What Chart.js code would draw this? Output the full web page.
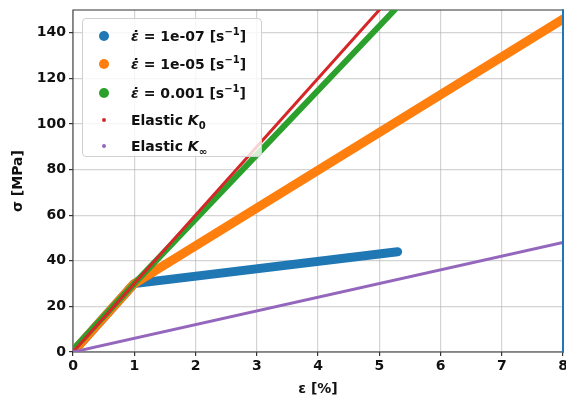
<!DOCTYPE html>
<html>
<head>
<meta charset="utf-8">
<script src="https://cdn.jsdelivr.net/npm/chart.js@4.4.1/dist/chart.umd.min.js"></script>
<style>
  html, body { margin: 0; padding: 0; background: #fff; }
  #wrap { position: relative; width: 566px; height: 398px; }
  #legend {
    position: absolute; left: 82px; top: 18px; width: 180px; height: 139px;
    box-sizing: border-box; border: 1px solid #d0d0d0; border-radius: 4px;
    background: rgba(255,255,255,0.8);
    font-family: "DejaVu Sans", sans-serif; font-weight: bold; font-size: 14px; color: #111;
  }
  .row { position: absolute; left: 0; height: 20px; line-height: 20px; white-space: nowrap; }
  .dot { position: absolute; border-radius: 50%; }
  .lbl { position: absolute; left: 48px; top: 0; }
  sup, sub { font-size: 10px; line-height: 0; }
</style>
</head>
<body>
<div id="wrap">
  <canvas id="chart" width="566" height="398"></canvas>
  <div id="legend"></div>
</div>
<script>
// deformacion (%) y tension (MPa) de cada curva
let strainSlow = [0, 1, 5.3];
let stressSlow = [0, 30, 44];
let strainMid = [0, 1, 8];
let stressMid = [0, 30, 146];
let strainFast = [0, 1, 5.25];
let stressFast = [1, 30, 150];
let strainK0 = [0, 5];
let stressK0 = [0, 150];
let strainKinf = [0, 8];
let stressKinf = [0, 48];
let strainEdge = [8, 8];
let stressEdge = [0, 150];

let xTicks = [0, 1, 2, 3, 4, 5, 6, 7, 8];
let yTicks = [0, 20, 40, 60, 80, 100, 120, 140];

let nombres = [
  '<i>ε̇</i> = 1e-07 [s<sup>−1</sup>]',
  '<i>ε̇</i> = 1e-05 [s<sup>−1</sup>]',
  '<i>ε̇</i> = 0.001 [s<sup>−1</sup>]',
  'Elastic <i>K</i><sub>0</sub>',
  'Elastic <i>K</i><sub>∞</sub>'
];
let colores = ['#1f77b4', '#ff7f0e', '#2ca02c', '#d62728', '#9467bd'];

let pares = (xs, ys) => xs.map((x, i) => ({x: x, y: ys[i]}));

let linea = (xs, ys, color, ancho, orden) => ({
  data: pares(xs, ys),
  showLine: true,
  borderColor: color,
  backgroundColor: color,
  borderWidth: ancho,
  borderCapStyle: 'round',
  borderJoinStyle: 'round',
  pointRadius: 0,
  order: orden
});

let marco = {
  id: 'marco',
  beforeDatasetsDraw(chart) {
    let a = chart.chartArea;
    let c = chart.ctx;
    c.save();
    c.strokeStyle = '#333';
    c.lineWidth = 1;
    c.strokeRect(a.left, a.top, a.right - a.left, a.bottom - a.top);
    c.restore();
  }
};

let fuente = {family: 'DejaVu Sans', weight: 'bold', size: 14};

var ctx = document.getElementById('chart').getContext('2d');
var chart = new Chart(ctx, {
  type: 'scatter',
  data: {
    datasets: [
      linea(strainSlow, stressSlow, colores[0], 9, 6),
      linea(strainMid, stressMid, colores[1], 9, 5),
      linea(strainFast, stressFast, colores[2], 6, 4),
      linea(strainK0, stressK0, colores[3], 3, 3),
      linea(strainKinf, stressKinf, colores[4], 3, 2),
      Object.assign(linea(strainEdge, stressEdge, colores[0], 2, 1), {clip: false})
    ]
  },
  options: {
    responsive: false,
    animation: false,
    layout: {padding: {top: 10, right: 3, left: 0, bottom: 0}},
    plugins: {legend: {display: false}, tooltip: {enabled: false}},
    scales: {
      x: {
        type: 'linear', min: 0, max: 8,
        afterBuildTicks: (s) => { s.ticks = xTicks.map(v => ({value: v})); },
        afterFit: (s) => { s.height = 46; s.paddingLeft = 0; s.paddingRight = 0; },
        ticks: {color: '#111', font: fuente, padding: 2},
        grid: {color: 'rgba(176,176,176,0.55)', lineWidth: 1.2, tickColor: '#333', tickLength: 4},
        border: {display: false},
        title: {display: true, text: 'ε [%]', color: '#111', font: fuente, padding: 0}
      },
      y: {
        type: 'linear', min: 0, max: 150,
        afterBuildTicks: (s) => { s.ticks = yTicks.map(v => ({value: v})); },
        afterFit: (s) => { s.width = 73; s.paddingTop = 0; s.paddingBottom = 0; },
        ticks: {color: '#111', font: fuente, padding: 3},
        grid: {color: 'rgba(176,176,176,0.55)', lineWidth: 1.2, tickColor: '#333', tickLength: 4},
        border: {display: false},
        title: {display: true, text: 'σ [MPa]', color: '#111', font: fuente, padding: {top: 10, bottom: 0}}
      }
    }
  },
  plugins: [marco]
});

// leyenda dentro del area del grafico
let leyenda = document.getElementById('legend');
let filasY = [17, 45, 74, 101, 127];
nombres.forEach((n, i) => {
  let r = i < 3 ? 5 : 2;
  let fila = document.createElement('div');
  fila.className = 'row';
  fila.style.top = (filasY[i] - 10) + 'px';
  fila.innerHTML = '<span class="dot" style="left:' + (21 - r) + 'px;top:' + (10 - r) + 'px;width:' + (2 * r) + 'px;height:' + (2 * r) + 'px;background:' + colores[i] + '"></span>' +
    '<span class="lbl">' + n + '</span>';
  leyenda.appendChild(fila);
});
</script>
</body>
</html>
